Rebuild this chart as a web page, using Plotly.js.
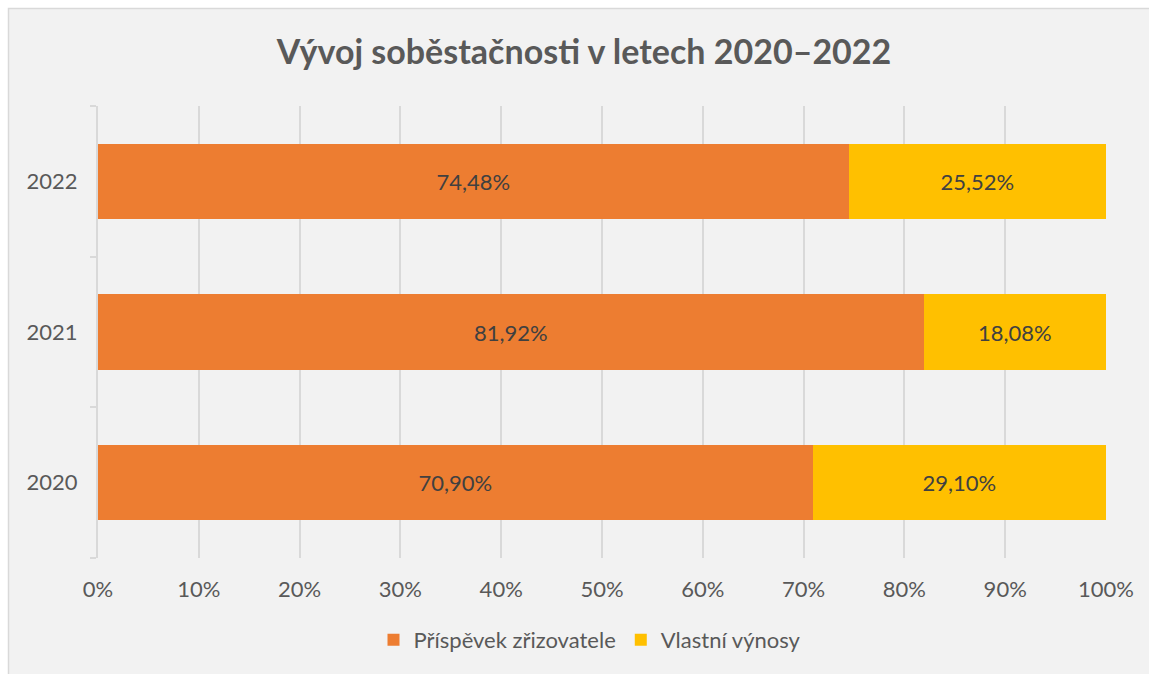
<!DOCTYPE html>
<html><head><meta charset="utf-8">
<script src="https://cdn.plot.ly/plotly-3.0.1.min.js"></script>
<style>html,body{margin:0;padding:0;background:#fff;}#chart{width:1149px;height:674px;}</style>
</head><body><div id="chart"></div>
<script>
const years = ['2020', '2021', '2022'];
const prispevek = [70.90, 81.92, 74.48];
const vynosy = [29.10, 18.08, 25.52];
const seriesNames = ['Příspěvek zřizovatele', 'Vlastní výnosy'];
const tickVals = [0,10,20,30,40,50,60,70,80,90,100];
const tickText = tickVals.map(v => v + '%');
const fmt = v => v.toFixed(2).replace('.', ',') + '%';

const W = 1149, H = 674, L = 98, R = 43, T = 106, B = 116;
const pw = W - L - R, ph = H - T - B;
const px = x => (x - L) / pw;
const py = y => (H - B - y) / ph;

const font = 'Lato, "Open Sans", sans-serif';
const traces = [
  {type:'bar', orientation:'h', y: years, x: prispevek, name: seriesNames[0],
   marker:{color:'#ED7D31'}, text: prispevek.map(fmt), textposition:'inside',
   insidetextanchor:'middle', textfont:{size:22, color:'#404040', family:font},
   hoverinfo:'none'},
  {type:'bar', orientation:'h', y: years, x: vynosy, name: seriesNames[1],
   marker:{color:'#FFC000'}, text: vynosy.map(fmt), textposition:'inside',
   insidetextanchor:'middle', textfont:{size:22, color:'#404040', family:font},
   hoverinfo:'none'}
];
const layout = {
  width: W, height: H,
  margin:{l:L, r:R, t:T, b:B, pad:0},
  barmode:'stack', bargap:0.5,
  paper_bgcolor:'#ffffff', plot_bgcolor:'rgba(0,0,0,0)',
  font:{family:font, color:'#595959', size:22},
  title:{text:'<b>Vývoj soběstačnosti v letech 2020–2022</b>', x:px(584), xref:'paper', xanchor:'center',
         y:1 - 52/H, yanchor:'middle', font:{size:34, color:'#595959', family:font}},
  xaxis:{range:[0,100], tickvals:tickVals, ticktext:tickText, showgrid:true,
         gridcolor:'#d9d9d9', gridwidth:2, zeroline:false, showline:false,
         ticks:'outside', ticklen:12, tickcolor:'rgba(0,0,0,0)',
         tickfont:{size:22, color:'#595959'}, fixedrange:true},
  yaxis:{type:'category', categoryorder:'array', categoryarray: years,
         showline:true, linecolor:'#d9d9d9', linewidth:2, ticks:'outside', tickson:'boundaries',
         ticklen:6, tickcolor:'#d9d9d9', tickwidth:2, showgrid:false, zeroline:false,
         ticklabelstandoff:14, tickfont:{size:22, color:'#595959'}, fixedrange:true},
  showlegend:true,
  legend:{orientation:'h', x:px(590), xanchor:'center', y:py(640), yanchor:'middle',
          font:{size:22, color:'#595959'}, traceorder:'normal', bgcolor:'rgba(0,0,0,0)',
          itemwidth:30},
  shapes:[{type:'rect', xref:'paper', yref:'paper', x0:px(8.5), x1:px(1160), y0:py(690), y1:py(8.5),
           fillcolor:'#f2f2f2', line:{color:'#d9d9d9', width:1.5}, layer:'below'}]
};
Plotly.newPlot('chart', traces, layout, {displayModeBar:false, staticPlot:true});
</script></body></html>
